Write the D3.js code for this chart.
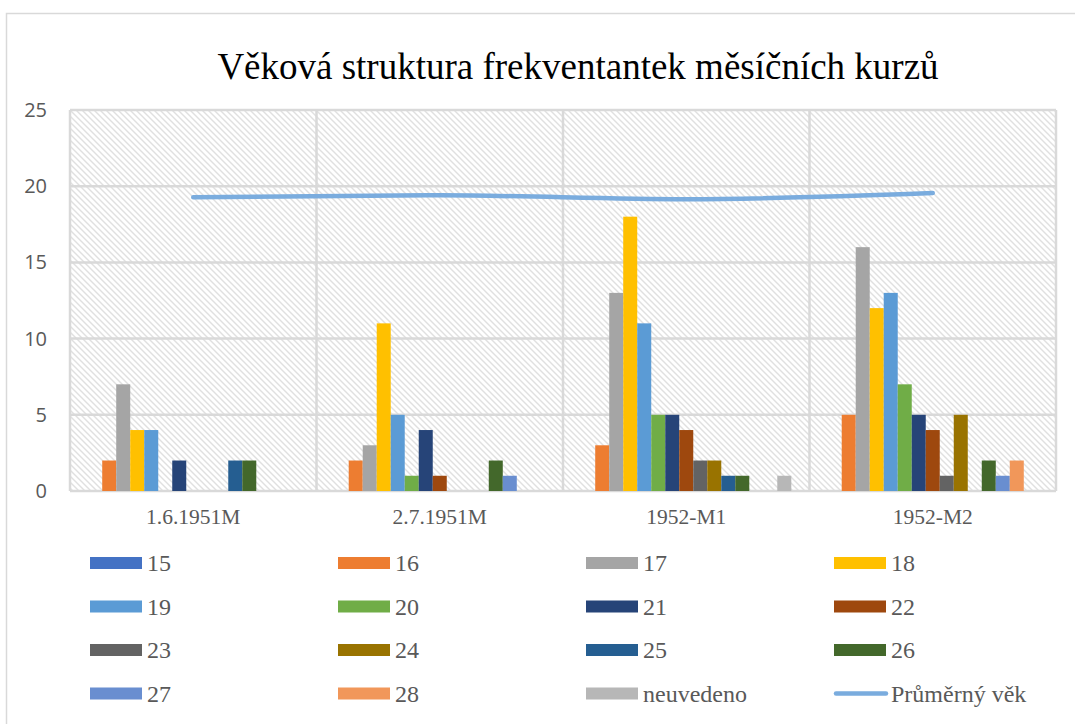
<!DOCTYPE html>
<html>
<head>
<meta charset="utf-8">
<script src="https://cdn.jsdelivr.net/npm/d3@7"></script>
<style>
  body { margin: 0; background: #fff; }
  svg { display: block; }
</style>
</head>
<body>
<svg id="chart" width="1075" height="724"></svg>
<script>
const categories = ["1.6.1951M", "2.7.1951M", "1952-M1", "1952-M2"];
const seriesNames = ["15", "16", "17", "18", "19", "20", "21", "22", "23", "24", "25", "26", "27", "28", "neuvedeno"];
const seriesColors = ["#4472C4", "#ED7D31", "#A5A5A5", "#FFC000", "#5B9BD5", "#70AD47", "#264478",
  "#9E480E", "#636363", "#997300", "#255E91", "#43682B", "#698ED0", "#F1975A", "#B7B7B7"];
// values per series, one per category
const values = [
  [0, 0, 0, 0],     // 15
  [2, 2, 3, 5],     // 16
  [7, 3, 13, 16],   // 17
  [4, 11, 18, 12],  // 18
  [4, 5, 11, 13],   // 19
  [0, 1, 5, 7],     // 20
  [2, 4, 5, 5],     // 21
  [0, 1, 4, 4],     // 22
  [0, 0, 2, 1],     // 23
  [0, 0, 2, 5],     // 24
  [2, 0, 1, 0],     // 25
  [2, 2, 1, 2],     // 26
  [0, 1, 0, 1],     // 27
  [0, 0, 0, 2],     // 28
  [0, 0, 1, 0]      // neuvedeno
];
const avgAge = [19.28, 19.4, 19.15, 19.55];
const lineName = "Průměrný věk";
const yTicks = [0, 5, 10, 15, 20, 25];
const title = "Věková struktura frekventantek měsíčních kurzů";

const svg = d3.select("#chart");
const margin = {top: 110, left: 70, right: 1075 - 1056, bottom: 724 - 491};
const width = 1056 - margin.left;
const height = 491 - margin.top;
const grid = "#d9d9d9";
const textCol = "#595959";
const serif = "'Liberation Serif', 'Times New Roman', serif";

// outer chart border (runs off the window like the reference)
svg.append("rect")
  .attr("x", 6.5).attr("y", 13.5).attr("width", 1100).attr("height", 800)
  .attr("fill", "#fff").attr("stroke", grid).attr("stroke-width", 1.5);

// hatch pattern
const defs = svg.append("defs");
const pat = defs.append("pattern")
  .attr("id", "hatch").attr("patternUnits", "userSpaceOnUse")
  .attr("width", 6).attr("height", 6);
pat.append("rect").attr("width", 6).attr("height", 6).attr("fill", "#fff");
pat.append("path")
  .attr("d", "M0,0 L6,6 M-3,3 L3,9 M3,-3 L9,3")
  .attr("stroke", "#e0e0e0").attr("stroke-width", 1.4);

svg.append("text")
  .attr("x", 578).attr("y", 79)
  .attr("text-anchor", "middle")
  .attr("font-family", serif)
  .attr("font-size", 37)
  .attr("fill", "#000")
  .text(title);

const g = svg.append("g").attr("transform", `translate(${margin.left},${margin.top})`);

const x0 = d3.scaleBand().domain(categories).range([0, width]);
const x1 = d3.scaleBand().domain(seriesNames).range([0, x0.bandwidth()]).paddingOuter(1.3);
const y = d3.scaleLinear().domain([0, 25]).range([height, 0]);

g.append("rect").attr("width", width).attr("height", height).attr("fill", "url(#hatch)");

// gridlines
g.selectAll(".hgrid").data(yTicks).enter().append("line")
  .attr("x1", 0).attr("x2", width)
  .attr("y1", d => y(d)).attr("y2", d => y(d))
  .attr("stroke", grid).attr("stroke-width", 2.5);
const bounds = categories.map(c => x0(c)).concat([width]);
g.selectAll(".vgrid").data(bounds).enter().append("line")
  .attr("x1", d => d).attr("x2", d => d)
  .attr("y1", 0).attr("y2", height)
  .attr("stroke", grid).attr("stroke-width", 2.5);

// bars
seriesNames.forEach((s, i) => {
  g.append("g").selectAll("rect")
    .data(values[i].map((v, j) => ({cat: categories[j], v})))
    .enter().filter(d => d.v > 0).append("rect")
    .attr("x", d => x0(d.cat) + x1(s))
    .attr("y", d => y(d.v))
    .attr("width", x1.bandwidth())
    .attr("height", d => height - y(d.v))
    .attr("fill", seriesColors[i]);
});

// average line
const line = d3.line()
  .x((d, j) => x0(categories[j]) + x0.bandwidth() / 2)
  .y(d => y(d))
  .curve(d3.curveMonotoneX);
g.append("path")
  .datum(avgAge)
  .attr("d", line)
  .attr("fill", "none")
  .attr("stroke", "#7aacde")
  .attr("stroke-width", 4.5)
  .attr("stroke-linecap", "round");

// axes
const yAxis = g.append("g").call(d3.axisLeft(y).tickValues(yTicks).tickSize(0).tickPadding(23));
yAxis.select(".domain").remove();
yAxis.selectAll("text")
  .attr("font-family", "'Open Sans', 'Liberation Sans', sans-serif")
  .attr("font-size", 20)
  .attr("fill", textCol);

const xAxis = g.append("g").attr("transform", `translate(0,${height})`)
  .call(d3.axisBottom(x0).tickSize(0).tickPadding(18));
xAxis.select(".domain").remove();
xAxis.selectAll("text")
  .attr("font-family", serif)
  .attr("font-size", 21.5)
  .attr("fill", textCol);

// legend
const legendItems = seriesNames.map((s, i) => ({name: s, color: seriesColors[i], type: "bar"}))
  .concat([{name: lineName, color: "#7aacde", type: "line"}]);
const leg = svg.append("g");
legendItems.forEach((d, i) => {
  const col = i % 4, row = Math.floor(i / 4);
  const lx = 90 + col * 248, ly = 563 + row * 43.5;
  if (d.type === "bar") {
    leg.append("rect").attr("x", lx).attr("y", ly - 6).attr("width", 52).attr("height", 12).attr("fill", d.color);
  } else {
    leg.append("line").attr("x1", lx + 2).attr("x2", lx + 52).attr("y1", ly).attr("y2", ly)
      .attr("stroke", d.color).attr("stroke-width", 4.5).attr("stroke-linecap", "round");
  }
  leg.append("text")
    .attr("x", lx + 57).attr("y", ly + 8)
    .attr("font-family", serif)
    .attr("font-size", 24)
    .attr("fill", textCol)
    .text(d.name);
});
</script>
</body>
</html>
